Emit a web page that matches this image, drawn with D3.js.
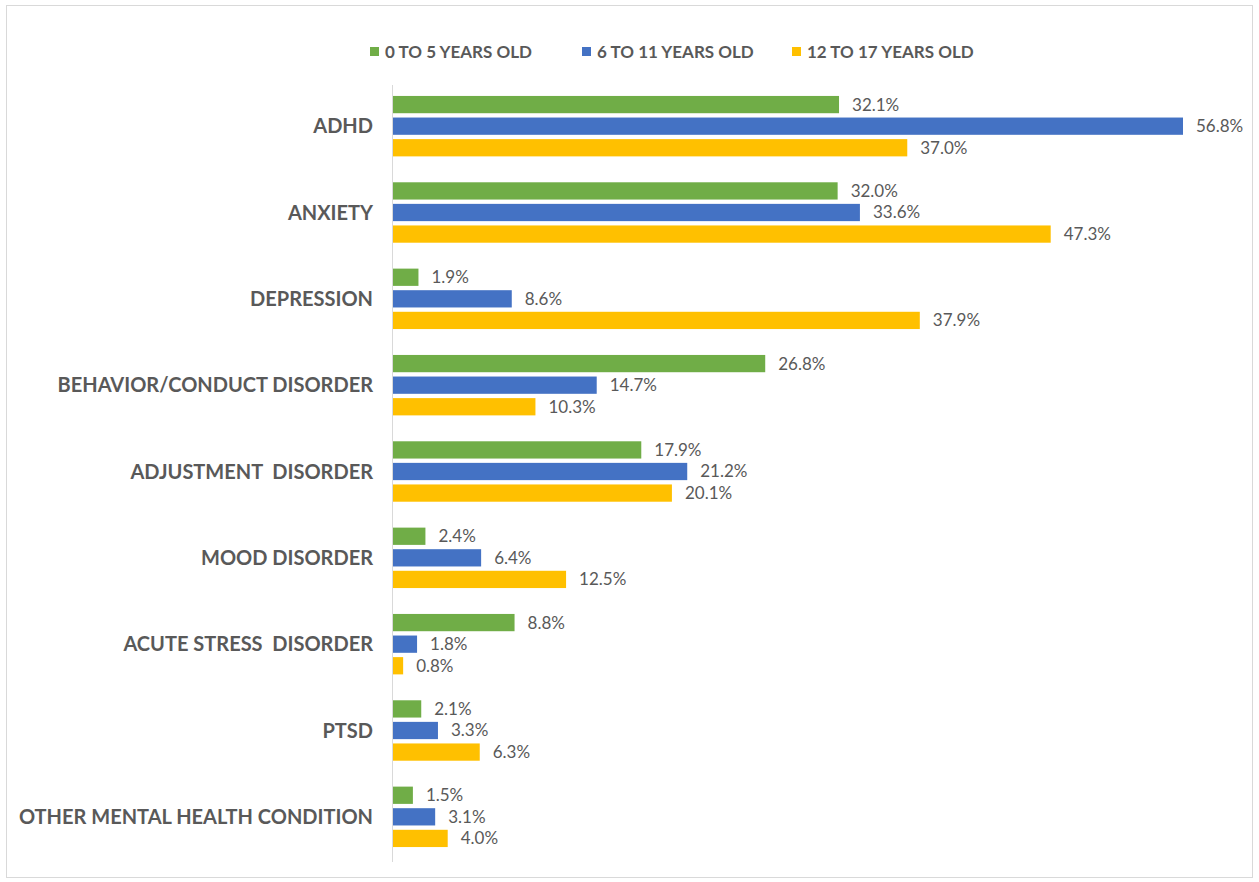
<!DOCTYPE html>
<svg width="1259" height="882"></svg>
<script src="https://d3js.org/d3.v7.min.js"></script>
<style>
  body {
    margin: 0;
    background: #fff;
  }
  text {
    font-family: Lato, "Open Sans", sans-serif;
    fill: #595959;
  }
  .cat-label {
    font-weight: bold;
    font-size: 20px;
  }
  .value-label {
    font-size: 17px;
  }
  .legend text {
    font-weight: bold;
    font-size: 17px;
  }
</style>
<script>
// categories, top to bottom
var categories = ["ADHD", "ANXIETY", "DEPRESSION", "BEHAVIOR/CONDUCT DISORDER",
  "ADJUSTMENT  DISORDER", "MOOD DISORDER", "ACUTE STRESS  DISORDER", "PTSD",
  "OTHER MENTAL HEALTH CONDITION"];

var seriesNames = ["0 TO 5 YEARS OLD", "6 TO 11 YEARS OLD", "12 TO 17 YEARS OLD"];
var seriesColors = ["#70ad47", "#4472c4", "#ffc000"];

// percent values per series, same order as categories
var age0to5 = [32.1, 32.0, 1.9, 26.8, 17.9, 2.4, 8.8, 2.1, 1.5];
var age6to11 = [56.8, 33.6, 8.6, 14.7, 21.2, 6.4, 1.8, 3.3, 3.1];
var age12to17 = [37.0, 47.3, 37.9, 10.3, 20.1, 12.5, 0.8, 6.3, 4.0];

var series = [age0to5, age6to11, age12to17];

var svg = d3.select("svg");

// chart frame
svg.append("rect")
    .attr("x", 6.5)
    .attr("y", 5.5)
    .attr("width", 1246)
    .attr("height", 872)
    .attr("fill", "#fff")
    .attr("stroke", "#d9d9d9");

var x = d3.scaleLinear()
    .domain([0, 56.8])
    .range([392, 1183]);

var y0 = d3.scaleBand()
    .domain(categories)
    .range([83, 860])
    .paddingInner(0.3)
    .paddingOuter(0.15);

var y1 = d3.scaleBand()
    .domain(d3.range(series.length))
    .range([0, y0.bandwidth()])
    .paddingInner(0.2);

var rows = [];
categories.forEach(function(c, i) {
  series.forEach(function(s, j) {
    rows.push({cat: c, s: j, value: s[i]});
  });
});

var groups = svg.append("g").attr("class", "bars")
  .selectAll("g")
  .data(rows)
  .enter().append("g");

groups.append("rect")
    .attr("x", x(0))
    .attr("y", function(d) { return y0(d.cat) + y1(d.s); })
    .attr("width", function(d) { return x(d.value) - x(0); })
    .attr("height", y1.bandwidth())
    .attr("fill", function(d) { return seriesColors[d.s]; });

groups.append("text")
    .attr("class", "value-label")
    .attr("x", function(d) { return x(d.value) + 13; })
    .attr("y", function(d) { return y0(d.cat) + y1(d.s) + y1.bandwidth() / 2; })
    .attr("dy", "0.35em")
    .text(function(d) { return d.value.toFixed(1) + "%"; });

// vertical category axis line
svg.append("line")
    .attr("x1", x(0) + 0.5)
    .attr("x2", x(0) + 0.5)
    .attr("y1", 85)
    .attr("y2", 862)
    .attr("stroke", "#d9d9d9");

svg.append("g").selectAll("text")
  .data(categories)
  .enter().append("text")
    .attr("class", "cat-label")
    .attr("x", 373)
    .attr("y", function(d) { return y0(d) + y0.bandwidth() / 2; })
    .attr("dy", "0.35em")
    .attr("text-anchor", "end")
    .style("white-space", "pre")
    .text(function(d) { return d; });

// legend
var legendX = [370, 582, 792];
var legend = svg.append("g").attr("class", "legend")
  .selectAll("g")
  .data(seriesNames)
  .enter().append("g")
    .attr("transform", function(d, i) { return "translate(" + legendX[i] + ",52)"; });

legend.append("rect")
    .attr("x", 0)
    .attr("y", -5)
    .attr("width", 9)
    .attr("height", 9)
    .attr("fill", function(d, i) { return seriesColors[i]; });

legend.append("text")
    .attr("x", 15)
    .attr("dy", "0.35em")
    .text(function(d) { return d; });
</script>
